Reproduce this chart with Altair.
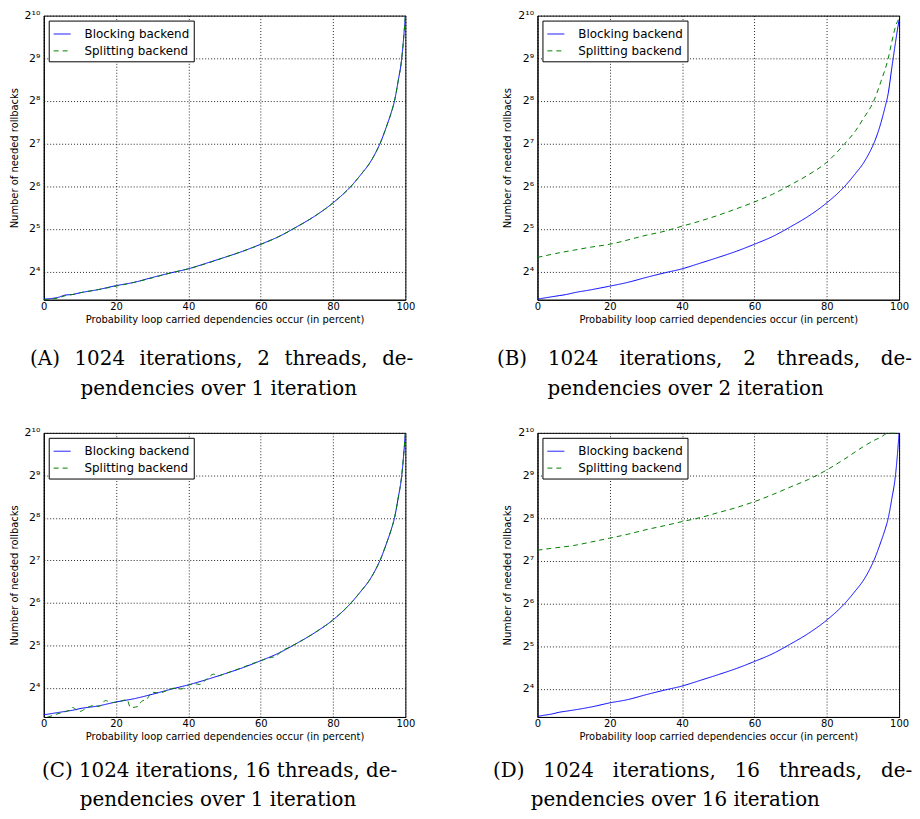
import altair as alt
import pandas as pd

SERIES = ["Blocking backend", "Splitting backend"]
X_TITLE = "Probability loop carried dependencies occur (in percent)"
Y_TITLE = "Number of needed rollbacks"
X_TICKS = [0, 20, 40, 60, 80, 100]
Y_TICKS = [16, 32, 64, 128, 256, 512, 1024]

# Panel A
A_BLOCK_X = [0, 2, 4, 6, 8, 10, 15, 20, 25, 30, 35, 40, 45, 50, 55, 60, 65, 70, 75, 80, 85, 88, 90, 92, 93, 95, 96, 97, 98, 99, 99.5, 100]
A_BLOCK_Y = [10.2, 10.3, 10.5, 10.9, 11.0, 11.3, 11.9, 12.7, 13.4, 14.5, 15.6, 16.7, 18.3, 20.1, 22.2, 24.9, 28.2, 33.1, 39.4, 48.8, 64, 79, 92, 113, 128, 175, 208, 256, 352, 512, 700, 1024]
A_SPLIT_X = [0, 2, 4, 6, 8, 10, 15, 20, 25, 30, 35, 40, 45, 50, 55, 60, 65, 70, 75, 80, 85, 88, 90, 92, 93, 95, 96, 97, 98, 99, 99.5, 100]
A_SPLIT_Y = [10.1, 10.2, 10.4, 10.8, 11.0, 11.3, 11.9, 12.6, 13.4, 14.4, 15.6, 16.7, 18.2, 20.1, 22.2, 24.8, 28.2, 33.0, 39.4, 48.8, 64, 79, 92, 113, 128, 175, 208, 256, 352, 512, 700, 1024]

# Panel B
B_BLOCK_X = [0, 2, 4, 6, 8, 10, 15, 20, 25, 30, 35, 40, 45, 50, 55, 60, 65, 70, 75, 80, 85, 88, 90, 92, 93, 95, 96, 97, 98, 99, 99.5, 100]
B_BLOCK_Y = [10.2, 10.4, 10.6, 10.8, 11.0, 11.3, 11.9, 12.6, 13.4, 14.5, 15.6, 16.7, 18.3, 20.1, 22.2, 24.9, 28.2, 33.1, 39.4, 48.8, 64, 79, 92, 113, 128, 180, 225, 290, 440, 660, 800, 955]
B_SPLIT_X = [0, 5, 10, 15, 20, 25, 30, 35, 40, 45, 50, 55, 60, 65, 70, 75, 80, 85, 88, 90, 93, 95, 97, 98, 99, 100]
B_SPLIT_Y = [20.1, 21.4, 22.6, 23.8, 24.9, 26.7, 28.8, 30.7, 33.4, 36.3, 39.9, 44.3, 49.5, 56.1, 65.4, 77.2, 94.4, 128, 158, 190, 256, 352, 512, 671, 855, 982]

# Panel C
C_BLOCK_X = [0, 2, 4, 6, 8, 10, 15, 20, 25, 30, 35, 40, 45, 50, 55, 60, 65, 70, 75, 80, 85, 88, 90, 92, 93, 95, 96, 97, 98, 99, 99.5, 100]
C_BLOCK_Y = [10.3, 10.5, 10.7, 10.9, 11.1, 11.4, 11.9, 12.7, 13.4, 14.4, 15.6, 16.8, 18.3, 20.1, 22.2, 24.9, 28.2, 33.1, 39.4, 48.5, 64, 79, 92, 113, 128, 175, 208, 256, 352, 512, 700, 1024]
C_SPLIT_X = [1, 3, 5, 7, 8, 9, 10, 12, 14, 15, 16, 17, 19, 21, 23, 24, 26, 27, 28.5, 30, 32, 34, 36, 38, 40, 42, 43, 45, 47, 48, 50, 53, 55, 57, 60, 62, 64, 66, 68, 70, 75, 80, 85, 88, 90, 92, 93, 95, 96, 97, 98, 99, 99.5, 100]
C_SPLIT_Y = [9.9, 10.3, 10.7, 11.1, 11.6, 11.2, 10.9, 11.6, 12.0, 11.8, 12.1, 13.0, 12.6, 12.8, 13.2, 11.6, 11.8, 12.8, 13.3, 14.9, 14.7, 15.3, 15.9, 15.7, 16.7, 17.1, 16.9, 18.4, 20.0, 19.4, 20.1, 21.4, 22.3, 23.4, 24.9, 26.0, 26.7, 29.4, 31.1, 33.1, 39.4, 48.5, 64, 79, 92, 113, 128, 175, 208, 256, 352, 512, 700, 1024]

# Panel D
D_BLOCK_X = [0, 2, 4, 6, 8, 10, 15, 20, 25, 30, 35, 40, 45, 50, 55, 60, 65, 70, 75, 80, 85, 88, 90, 92, 93, 95, 96, 97, 98, 99, 99.5, 100]
D_BLOCK_Y = [10.2, 10.4, 10.6, 10.9, 11.1, 11.3, 11.9, 12.7, 13.4, 14.5, 15.6, 16.7, 18.3, 20.1, 22.2, 24.9, 28.2, 33.1, 39.4, 48.8, 64, 79, 92, 113, 128, 175, 208, 256, 352, 512, 700, 1024]
D_SPLIT_X = [0, 5, 10, 15, 20, 25, 30, 35, 40, 45, 50, 55, 60, 65, 70, 75, 80, 85, 90, 93, 95, 97, 100]
D_SPLIT_Y = [152, 158, 164, 174, 185, 197, 212, 226, 242, 258, 280, 304, 335, 375, 425, 481, 560, 671, 815, 904, 955, 1024, 1024]

# caption words (line 1), line 2
CAPTION_WORDS = [
    ["(A)", "1024", "iterations,", "2", "threads,", "de-"],
    ["(B)", "1024", "iterations,", "2", "threads,", "de-"],
    ["(C)", "1024", "iterations,", "16", "threads,", "de-"],
    ["(D)", "1024", "iterations,", "16", "threads,", "de-"],
]
CAPTION_LINE2 = [
    "pendencies over 1 iteration",
    "pendencies over 2 iteration",
    "pendencies over 1 iteration",
    "pendencies over 16 iteration",
]

NB = "\u00a0"
ZW = "\u200b"
HAIR = "\u200a"

LABEL_EXPR = ("datum.value == 16 ? '2⁴' : datum.value == 32 ? '2⁵' : datum.value == 64 ? '2⁶' : "
              "datum.value == 128 ? '2⁷' : datum.value == 256 ? '2⁸' : datum.value == 512 ? '2⁹' : '2¹⁰'")


def panel(bx, by, sx, sy, words, line2, sep, indent, dx, offset, ymin):
    df = pd.DataFrame({
        "p": list(bx) + list(sx),
        "n": list(by) + list(sy),
        "series": [SERIES[0]] * len(bx) + [SERIES[1]] * len(sx),
    })
    line1 = sep.join(words)
    return alt.Chart(df).mark_line(strokeWidth=1, clip=True, interpolate="monotone").encode(
        x=alt.X("p:Q", scale=alt.Scale(domain=[0, 100], nice=False),
                axis=alt.Axis(values=X_TICKS, title=X_TITLE, labelFlush=False, format="d")),
        y=alt.Y("n:Q", scale=alt.Scale(type="log", base=2, domain=[ymin, 1024], nice=False),
                axis=alt.Axis(values=Y_TICKS, labelExpr=LABEL_EXPR, title=Y_TITLE)),
        color=alt.Color("series:N", scale=alt.Scale(domain=SERIES, range=["#0000ff", "#008000"]),
                        legend=alt.Legend(title=None)),
        strokeDash=alt.StrokeDash("series:N", scale=alt.Scale(domain=SERIES, range=[[1, 0], [5, 4]]),
                                  legend=alt.Legend(title=None)),
    ).properties(
        width=364, height=286,
        title=alt.TitleParams(text=[line1, ZW + NB * indent + line2], orient="bottom", anchor="start",
                              dx=dx, offset=offset),
    )


pa = panel(A_BLOCK_X, A_BLOCK_Y, A_SPLIT_X, A_SPLIT_Y, CAPTION_WORDS[0], CAPTION_LINE2[0],
           NB + HAIR + " ", 8, 21, 25, 10.1)
pb = panel(B_BLOCK_X, B_BLOCK_Y, B_SPLIT_X, B_SPLIT_Y, CAPTION_WORDS[1], CAPTION_LINE2[1],
           NB + NB + HAIR + " ", 8, -6, 25, 10.1)
pc = panel(C_BLOCK_X, C_BLOCK_Y, C_SPLIT_X, C_SPLIT_Y, CAPTION_WORDS[2], CAPTION_LINE2[2],
           " ", 6, 33, 19, 9.95)
pd_ = panel(D_BLOCK_X, D_BLOCK_Y, D_SPLIT_X, D_SPLIT_Y, CAPTION_WORDS[3], CAPTION_LINE2[3],
            NB + NB + " ", 6, -10, 19, 10.1)

row1 = alt.hconcat(pa, pb, spacing=80).resolve_scale(color="independent", strokeDash="independent")
row2 = alt.hconcat(pc, pd_, spacing=76).resolve_scale(color="independent", strokeDash="independent")

chart = alt.vconcat(row1, row2, spacing=27).resolve_scale(
    color="independent", strokeDash="independent"
).properties(
    padding={"left": 0, "top": -2, "right": -1, "bottom": -1},
    background="white",
).configure_view(
    stroke="black", strokeWidth=1, fill="white",
).configure_axis(
    grid=True, gridColor="black", gridDash=[1, 2], gridOpacity=0.85, gridWidth=1,
    domain=True, domainColor="black", domainWidth=1,
    ticks=False,
    labelFont="DejaVu Sans", labelFontSize=10, labelColor="black",
    titleFont="DejaVu Sans", titleFontSize=10, titleFontWeight="normal", titleColor="black",
).configure_axisX(
    labelPadding=2, titlePadding=3,
).configure_axisY(
    labelPadding=4, titlePadding=5, labelFontSize=11,
).configure_legend(
    orient="top-left", offset=5,
    strokeColor="black", fillColor="white", padding=4, cornerRadius=0,
    labelFont="DejaVu Sans", labelFontSize=12, labelColor="black", labelLimit=300,
    symbolType="stroke", symbolStrokeWidth=1, symbolSize=290, labelOffset=13, rowPadding=1,
).configure_title(
    font="DejaVu Serif", fontSize=20, fontWeight="normal", color="black", lineHeight=29.5,
)

chart.save("out.html", embed_options={"renderer": "svg", "actions": False})
